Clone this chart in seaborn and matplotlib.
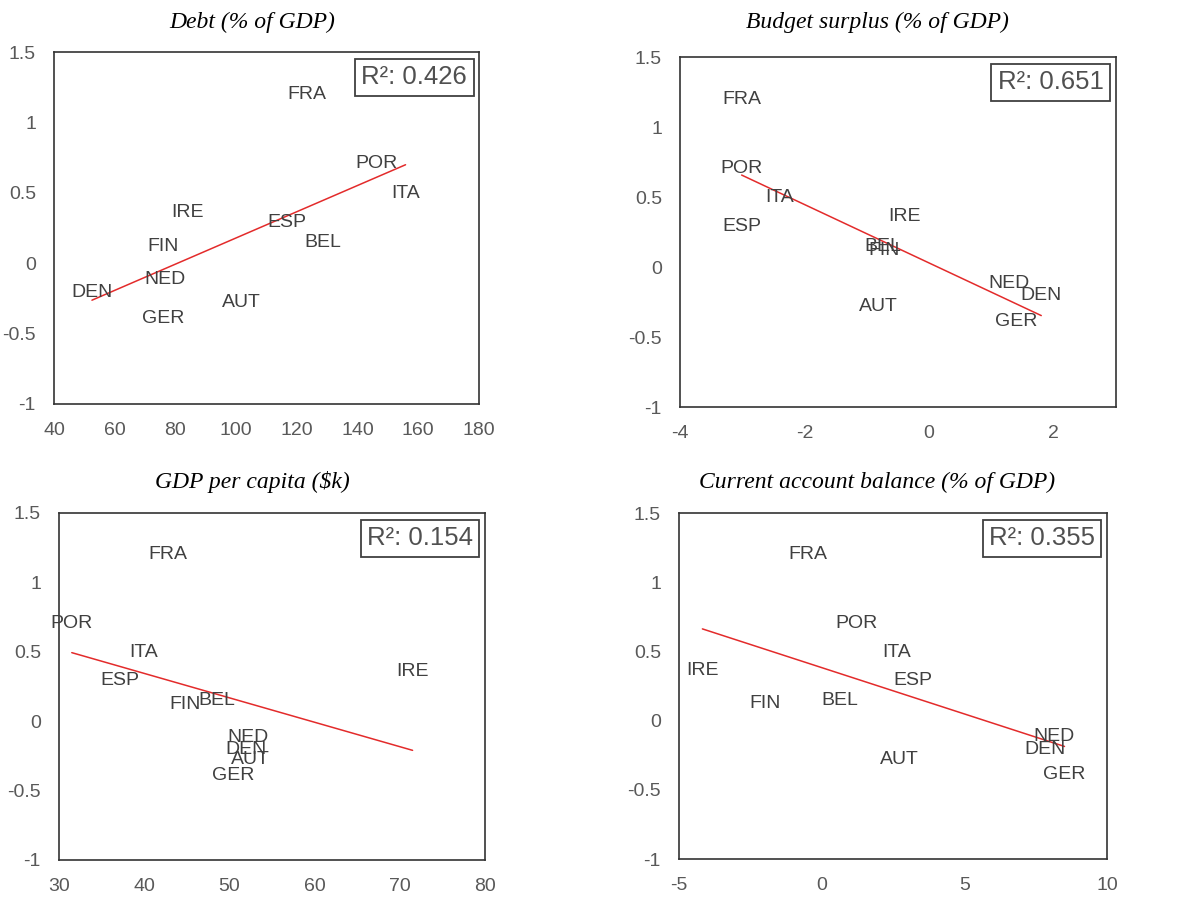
import numpy as np
import pandas as pd
import matplotlib
matplotlib.use("Agg")
import matplotlib.pyplot as plt
import seaborn as sns

# Country codes and the common outcome score plotted on every y axis
countries = ["FRA", "POR", "ITA", "IRE", "ESP", "BEL", "FIN", "NED", "DEN", "AUT", "GER"]
score = [1.20, 0.705, 0.493, 0.36, 0.29, 0.148, 0.12, -0.116, -0.207, -0.279, -0.392]

# Explanatory variables
debt = [123.4, 146.1, 155.8, 84.0, 116.6, 128.4, 75.9, 76.7, 52.5, 101.8, 76.0]
budget_surplus = [-3.01, -3.01, -2.40, -0.40, -3.01, -0.75, -0.72, 1.29, 1.80, -0.81, 1.40]
gdp_per_capita = [42.8, 31.5, 39.9, 71.5, 37.2, 48.5, 44.8, 52.2, 51.9, 52.5, 50.5]
current_account = [-0.47, 1.22, 2.63, -4.18, 3.21, 0.62, -1.98, 8.13, 7.83, 2.71, 8.51]

titles = ["Debt (% of GDP)", "Budget surplus (% of GDP)",
          "GDP per capita ($k)", "Current account balance (% of GDP)"]
r2_labels = ["0.426", "0.651", "0.154", "0.355"]

x_ticks = [[40, 60, 80, 100, 120, 140, 160, 180],
           [-4, -2, 0, 2],
           [30, 40, 50, 60, 70, 80],
           [-5, 0, 5, 10]]
x_limits = [(40, 180), (-4, 3), (30, 80), (-5, 10)]
y_ticks = [-1, -0.5, 0, 0.5, 1, 1.5]
y_tick_labels = ["-1", "-0.5", "0", "0.5", "1", "1.5"]

sns.set_theme(style="white")
plt.rcParams["font.family"] = ["Liberation Sans", "DejaVu Sans"]
plt.rcParams["axes.unicode_minus"] = False

W, H = 1196, 898
fig = plt.figure(figsize=(W / 100, H / 100), dpi=100)

# axes boxes in pixels: left, top, right, bottom
boxes = [(54, 52, 479, 404), (680, 57, 1116, 407),
         (59, 513, 485, 860), (679, 513, 1107, 859)]
title_pos = [(252, 22), (877, 22), (252, 482), (877, 482)]

xs = [debt, budget_surplus, gdp_per_capita, current_account]
label_color = "#404040"
tick_color = "#595959"

for i in range(4):
    l, t, r, b = boxes[i]
    ax = fig.add_axes([l / W, 1 - b / H, (r - l) / W, (b - t) / H])
    df = pd.DataFrame({"x": xs[i], "y": score, "country": countries})

    sns.regplot(data=df, x="x", y="y", scatter=False, ci=None, ax=ax,
                line_kws=dict(color="#e32b2b", lw=1.1))

    for _, row in df.iterrows():
        ax.text(row["x"], row["y"], row["country"], ha="center", va="center",
                fontsize=14, color=label_color)

    ax.set_xlim(*x_limits[i])
    ax.set_ylim(-1, 1.5)
    ax.set_xticks(x_ticks[i])
    ax.set_xticklabels([str(v) for v in x_ticks[i]])
    ax.set_yticks(y_ticks)
    ax.set_yticklabels(y_tick_labels)
    ax.tick_params(axis="both", length=0, labelsize=14, labelcolor=tick_color)
    ax.tick_params(axis="x", pad=13)
    ax.tick_params(axis="y", pad=13)
    ax.set_xlabel("")
    ax.set_ylabel("")
    for sp in ax.spines.values():
        sp.set_color("#333333")
        sp.set_linewidth(1.2)

    ax.text(0.972, 0.962, "R\u00b2: " + r2_labels[i], transform=ax.transAxes,
            ha="right", va="top", fontsize=18.5, color="#505050",
            bbox=dict(boxstyle="square,pad=0.25", fc="white",
                      ec="#404040", lw=1.3))

    tx, ty = title_pos[i]
    fig.text(tx / W, 1 - ty / H, titles[i], ha="center", va="center",
             fontsize=17, fontstyle="italic", color="black",
             family=["Liberation Serif", "DejaVu Serif"])

fig.savefig("out.png", dpi=100)
